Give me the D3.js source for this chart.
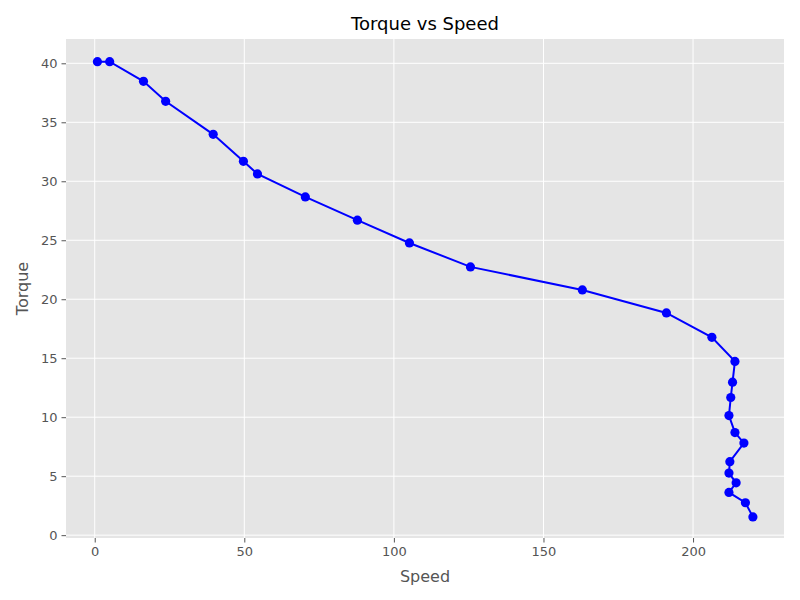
<!DOCTYPE html>
<html>
<head>
<meta charset="utf-8">
<script src="https://cdn.jsdelivr.net/npm/d3@7"></script>
<style>
  body { margin: 0; background: #fff; }
  text { font-family: "DejaVu Sans", sans-serif; }
</style>
</head>
<body>
<svg id="chart" width="800" height="600"></svg>
<script>
// values
var speed = [0.9, 5.0, 16.3, 23.7, 39.6, 49.7, 54.4, 70.4, 87.8, 105.2, 125.6, 163.0,
  191.1, 206.3, 214.0, 213.2, 212.6, 212.0, 214.0, 217.0, 212.3, 212.0, 214.4, 212.0, 217.5, 220.0];
var torque = [40.14, 40.14, 38.47, 36.78, 33.98, 31.69, 30.62, 28.67, 26.7, 24.77, 22.74, 20.79,
  18.84, 16.77, 14.73, 12.97, 11.67, 10.14, 8.70, 7.81, 6.23, 5.26, 4.44, 3.62, 2.75, 1.55];
var xTicks = [0, 50, 100, 150, 200];
var yTicks = [0, 5, 10, 15, 20, 25, 30, 35, 40];

var points = speed.map(function(s, i) { return {x: s, y: torque[i]}; });

// panel box (named so it doesn't clash with window.top)
var pLeft = 66, pRight = 784, pTop = 39, pBottom = 538;
var svg = d3.select("#chart");

var x = d3.scaleLinear().domain([-9.6, 230.4]).range([pLeft, pRight]);
var y = d3.scaleLinear().domain([-0.24, 42.06]).range([pBottom, pTop]);

// panel background
svg.append("rect")
  .attr("x", pLeft).attr("y", pTop)
  .attr("width", pRight - pLeft).attr("height", pBottom - pTop)
  .attr("fill", "#e5e5e5");

// grid
svg.append("g").selectAll("line").data(xTicks).enter().append("line")
  .attr("x1", function(d) { return x(d); }).attr("x2", function(d) { return x(d); })
  .attr("y1", pTop).attr("y2", pBottom)
  .attr("stroke", "#fff").attr("stroke-width", 1);
svg.append("g").selectAll("line").data(yTicks).enter().append("line")
  .attr("y1", function(d) { return y(d); }).attr("y2", function(d) { return y(d); })
  .attr("x1", pLeft).attr("x2", pRight)
  .attr("stroke", "#fff").attr("stroke-width", 1);

// axes
var xAxis = svg.append("g")
  .attr("transform", "translate(0," + pBottom + ")")
  .call(d3.axisBottom(x).tickValues(xTicks).tickSize(4.5).tickPadding(4));
var yAxis = svg.append("g")
  .attr("transform", "translate(" + pLeft + ",0)")
  .call(d3.axisLeft(y).tickValues(yTicks).tickSize(4.5).tickPadding(4));

[xAxis, yAxis].forEach(function(a) {
  a.select(".domain").remove();
  a.selectAll(".tick line").attr("stroke", "#555555");
  a.selectAll(".tick text")
    .attr("fill", "#555555")
    .style("font-size", "13px")
    .style("font-family", "DejaVu Sans, sans-serif");
});

// line + markers
var line = d3.line()
  .x(function(d) { return x(d.x); })
  .y(function(d) { return y(d.y); });

svg.append("path")
  .datum(points)
  .attr("d", line)
  .attr("fill", "none")
  .attr("stroke", "#0000ff")
  .attr("stroke-width", 2);

svg.append("g").selectAll("circle").data(points).enter().append("circle")
  .attr("cx", function(d) { return x(d.x); })
  .attr("cy", function(d) { return y(d.y); })
  .attr("r", 4.6)
  .attr("fill", "#0000ff");

// title and labels
svg.append("text")
  .attr("x", (pLeft + pRight) / 2).attr("y", 30)
  .attr("text-anchor", "middle")
  .style("font-size", "18px")
  .attr("fill", "#000")
  .text("Torque vs Speed");

svg.append("text")
  .attr("x", (pLeft + pRight) / 2).attr("y", 582)
  .attr("text-anchor", "middle")
  .style("font-size", "16px")
  .attr("fill", "#555555")
  .text("Speed");

svg.append("text")
  .attr("transform", "translate(28," + ((pTop + pBottom) / 2) + ") rotate(-90)")
  .attr("text-anchor", "middle")
  .style("font-size", "16px")
  .attr("fill", "#555555")
  .text("Torque");
</script>
</body>
</html>
